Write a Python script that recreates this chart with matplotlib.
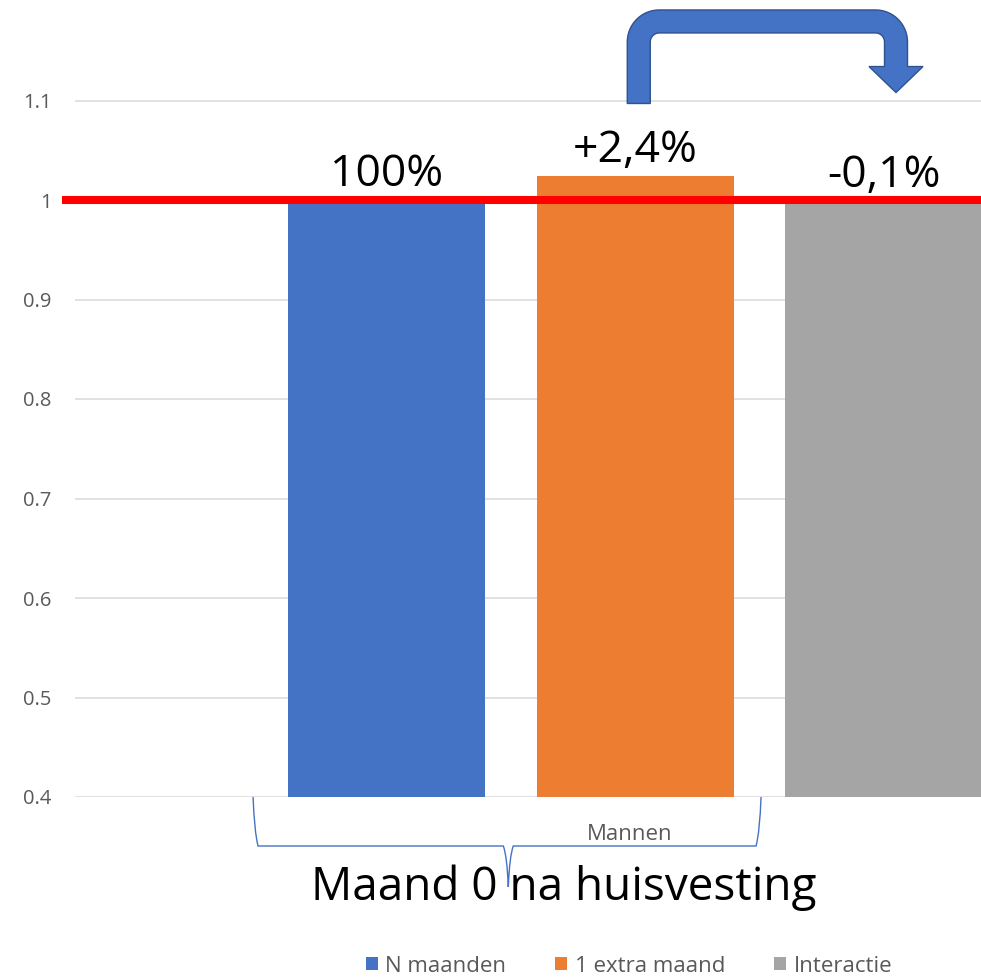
import numpy as np
import matplotlib
matplotlib.use("Agg")
import matplotlib.pyplot as plt
from matplotlib.patches import Polygon, Patch
from matplotlib.path import Path
from matplotlib.patches import PathPatch

# ---------------------------------------------
# data
series = ["N maanden", "1 extra maand", "Interactie"]
values = [1.0, 1.024, 0.999]
value_labels = ["100%", "+2,4%", "-0,1%"]
colors = ["#4472c4", "#ed7d31", "#a5a5a5"]
category = "Mannen"
title_below = "Maand 0 na huisvesting"
yticks = [0.4, 0.5, 0.6, 0.7, 0.8, 0.9, 1.0, 1.1]
ref_level = 1.0

plt.rcParams['font.family'] = ['Open Sans', 'DejaVu Sans']
grey_txt = "#595959"

fig = plt.figure(figsize=(9.81, 9.77), dpi=100)
ax = fig.add_axes([75/981, 1 - 797/977, 906/981, 796/977])

x = np.arange(len(series))
ax.bar(x, values, width=0.793, color=colors, zorder=2)
ax.set_xlim(-1.2535, 2.392)
ax.set_ylim(0.4, 1.2)

ax.set_yticks(yticks)
ax.set_yticklabels([f"{v:g}" for v in yticks])
ax.tick_params(axis='y', length=0, pad=17, labelsize=14.5, labelcolor=grey_txt)
ax.set_xticks([])
ax.grid(axis='y', color='#d9d9d9', lw=1.1, zorder=0)
for s in ax.spines.values():
    s.set_visible(False)

# red reference line
ax.axhline(ref_level, xmin=-0.01, xmax=1, color='#ff0000', lw=5.8, zorder=4, clip_on=False)

# value labels
for xi, v, lab in zip(x, values, value_labels):
    ax.annotate(lab, (xi, v), xytext=(0, 10), textcoords='offset points',
                ha='center', va='baseline', fontsize=32, color='black', zorder=5)

# ---------------------------------------------
# bent arrow from orange bar to grey bar
Lx, Ly = ax.transData.transform((x[1] + 0.015, 1.097))
Rx, Ry = ax.transData.transform((x[2] + 0.05, 1.108))
Ttop = ax.transData.transform((0, 1.191))[1]
h, Ro, Ri, hw, hl = 11.5, 32, 9, 27, 26

def arc(cx, cy, r, a0, a1, n=20):
    a = np.radians(np.linspace(a0, a1, n))
    return list(zip(cx + r*np.cos(a), cy + r*np.sin(a)))

pts = [(Lx - h, Ly)]
pts += arc(Lx - h + Ro, Ttop - Ro, Ro, 180, 90)
pts += arc(Rx + h - Ro, Ttop - Ro, Ro, 90, 0)
pts += [(Rx + h, Ry + hl), (Rx + hw, Ry + hl), (Rx, Ry), (Rx - hw, Ry + hl), (Rx - h, Ry + hl)]
pts += arc(Rx - h - Ri, Ttop - 2*h - Ri, Ri, 0, 90)
pts += arc(Lx + h + Ri, Ttop - 2*h - Ri, Ri, 90, 180)
pts += [(Lx + h, Ly)]
pts = ax.transData.inverted().transform(np.array(pts))
ax.add_patch(Polygon(pts, closed=True, facecolor='#4472c4', edgecolor='#2f528f',
                     lw=1, zorder=6, clip_on=False))

# ---------------------------------------------
# brace under the bars
trans = ax.get_xaxis_transform()
xa, xb, xc = -0.537, 1.507, 0.49
yb, yc = -49/796, -90/796
d = 0.02
verts = [(xa, 0), (xa + 0.005, yb*0.7), (xa + d, yb),
         (xc - d, yb), (xc - 0.005, yb*1.2), (xc, yc),
         (xc + 0.005, yb*1.2), (xc + d, yb),
         (xb - d, yb), (xb - 0.005, yb*0.7), (xb, 0)]
codes = [Path.MOVETO, Path.CURVE3, Path.CURVE3,
         Path.LINETO, Path.CURVE3, Path.CURVE3,
         Path.CURVE3, Path.CURVE3,
         Path.LINETO, Path.CURVE3, Path.CURVE3]
ax.add_patch(PathPatch(Path(verts, codes), transform=trans, fill=False,
                       edgecolor='#4472c4', lw=1, clip_on=False))

ax.text(0.98, -38/796, category, transform=trans, ha='center', va='center',
        fontsize=16, color=grey_txt)
fig.text(564/981, 1 - 900/977, title_below, ha='center', va='baseline', fontsize=33)

# legend
handles = [Patch(facecolor=c, label=s) for c, s in zip(colors, series)]
fig.legend(handles=handles, loc='center', bbox_to_anchor=(629/981, 1 - 966/977), ncol=3,
           frameon=False, handlelength=0.55, handleheight=0.55, handletextpad=0.33,
           columnspacing=2.2, fontsize=16, labelcolor=grey_txt)

fig.savefig("out.png", dpi=100)
